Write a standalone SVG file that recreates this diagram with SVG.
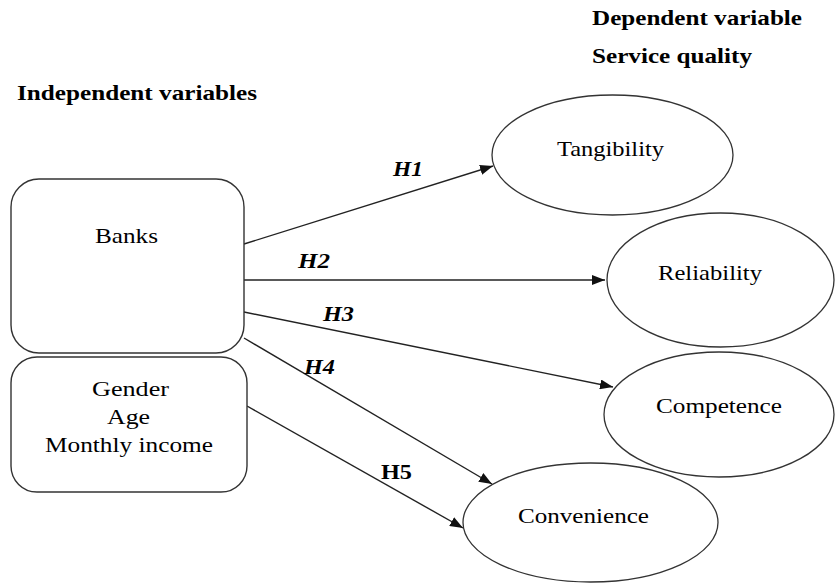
<svg xmlns="http://www.w3.org/2000/svg" width="835" height="583" viewBox="0 0 835 583" font-family="'Liberation Serif', 'DejaVu Serif', serif">
<defs>
<style>
text{font-family:'Liberation Serif','DejaVu Serif',serif}
.box{fill:#fff;stroke:#333;stroke-width:1.4}
.ell{fill:#fff;stroke:#333;stroke-width:1.3}
.lbl{font-size:22px;fill:#000}
.head{font-size:21px;font-weight:bold;fill:#000}
.h{font-size:20px;font-weight:bold;font-style:italic;fill:#000}
.hb{font-size:20px;font-weight:bold;fill:#000}
.conn line{stroke:#222;stroke-width:1.4;fill:none}
</style>
<marker id="arr" markerUnits="userSpaceOnUse" markerWidth="13" markerHeight="10" refX="13" refY="5" orient="auto">
<path d="M0,0 L13,5 L0,10 z" fill="#111"/>
</marker>
</defs>
<rect width="835" height="583" fill="#fff"/>

<g id="headings">
<text class="head" x="592" y="25" textLength="210" lengthAdjust="spacingAndGlyphs">Dependent variable</text>
<text class="head" x="592" y="63" textLength="160" lengthAdjust="spacingAndGlyphs">Service quality</text>
<text class="head" x="17" y="100" textLength="240" lengthAdjust="spacingAndGlyphs">Independent variables</text>
</g>

<g class="conn" id="connectors">
<line x1="244" y1="244" x2="493" y2="166" marker-end="url(#arr)"/>
<line x1="244" y1="280" x2="605" y2="280" marker-end="url(#arr)"/>
<line x1="244" y1="312" x2="613" y2="387" marker-end="url(#arr)"/>
<line x1="244" y1="338" x2="492" y2="484" marker-end="url(#arr)"/>
<line x1="247" y1="406" x2="463" y2="528" marker-end="url(#arr)"/>
<text class="h" x="393" y="176" textLength="30" lengthAdjust="spacingAndGlyphs">H1</text>
<text class="h" x="298" y="268" textLength="32" lengthAdjust="spacingAndGlyphs">H2</text>
<text class="h" x="323" y="321" textLength="31" lengthAdjust="spacingAndGlyphs">H3</text>
<text class="h" x="304" y="374" textLength="31" lengthAdjust="spacingAndGlyphs">H4</text>
<text class="hb" x="381" y="479" textLength="31" lengthAdjust="spacingAndGlyphs">H5</text>
</g>

<g id="banks">
<rect class="box" x="11" y="179" width="233" height="174" rx="28" ry="28"/>
<text class="lbl" x="95" y="243" textLength="63" lengthAdjust="spacingAndGlyphs">Banks</text>
</g>

<g id="demographics">
<rect class="box" x="11" y="357" width="236" height="135" rx="26" ry="26"/>
<text class="lbl" x="92" y="396" textLength="77" lengthAdjust="spacingAndGlyphs">Gender</text>
<text class="lbl" x="107" y="424" textLength="43" lengthAdjust="spacingAndGlyphs">Age</text>
<text class="lbl" x="45" y="452" textLength="168" lengthAdjust="spacingAndGlyphs">Monthly income</text>
</g>

<g id="tangibility">
<ellipse class="ell" cx="612.5" cy="155" rx="120.5" ry="60"/>
<text class="lbl" x="557" y="156" textLength="107" lengthAdjust="spacingAndGlyphs">Tangibility</text>
</g>

<g id="reliability">
<ellipse class="ell" cx="720.5" cy="280" rx="113.5" ry="67"/>
<text class="lbl" x="658" y="280" textLength="104" lengthAdjust="spacingAndGlyphs">Reliability</text>
</g>

<g id="competence">
<ellipse class="ell" cx="719" cy="414.5" rx="115" ry="62.5"/>
<text class="lbl" x="656" y="413" textLength="126" lengthAdjust="spacingAndGlyphs">Competence</text>
</g>

<g id="convenience">
<ellipse class="ell" cx="590.5" cy="522.5" rx="127.5" ry="59.5"/>
<text class="lbl" x="518" y="523" textLength="131" lengthAdjust="spacingAndGlyphs">Convenience</text>
</g>
</svg>
